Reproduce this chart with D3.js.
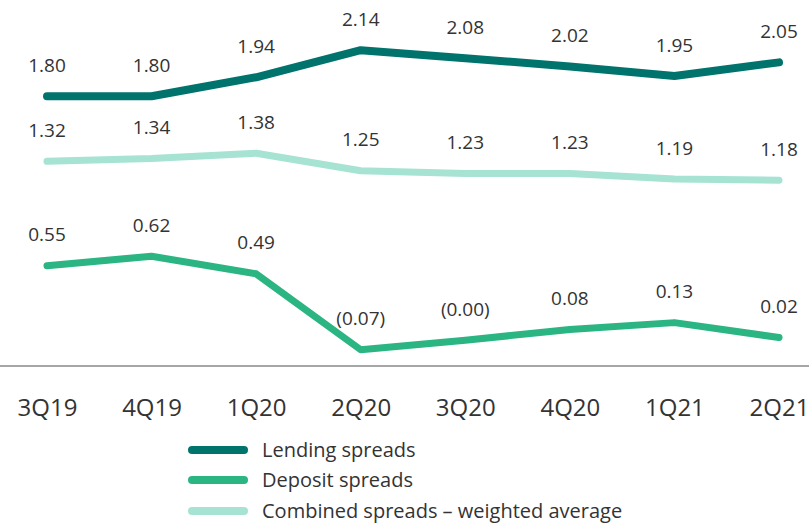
<!DOCTYPE html>
<html>
<head>
<meta charset="utf-8">
<script src="https://cdn.jsdelivr.net/npm/d3@7"></script>
<style>
  body { margin: 0; background: #fff; }
  svg { display: block; font-family: "Open Sans", "Noto Sans", sans-serif; }
  .axis path, .axis line { display: none; }
  .axis text { font-family: "Open Sans", "Noto Sans", sans-serif; font-size: 24px; fill: #333; }
  .val { font-size: 19px; fill: #333; }
  .legend text { font-size: 20px; fill: #333; }
</style>
</head>
<body>
<svg width="809" height="523"></svg>
<script>
const quarters = ["3Q19", "4Q19", "1Q20", "2Q20", "3Q20", "4Q20", "1Q21", "2Q21"];
const lending = [1.80, 1.80, 1.94, 2.14, 2.08, 2.02, 1.95, 2.05];
const deposit = [0.55, 0.62, 0.49, -0.07, -0.00, 0.08, 0.13, 0.02];
const combined = [1.32, 1.34, 1.38, 1.25, 1.23, 1.23, 1.19, 1.18];
const seriesNames = ["Lending spreads", "Deposit spreads", "Combined spreads – weighted average"];

const svg = d3.select("svg"),
    width = +svg.attr("width"),
    axisY = 366;

const x = d3.scalePoint().domain(quarters).range([47, 779]);
const y = d3.scaleLinear().domain([-0.19, 2.51]).range([axisY, 0]);

const series = [
    {name: seriesNames[0], values: lending, color: "#00736d", w: 8},
    {name: seriesNames[1], values: deposit, color: "#2bb583", w: 7},
    {name: seriesNames[2], values: combined, color: "#a6e3d3", w: 7}
];

// baseline
svg.append("line")
    .attr("x1", 0).attr("x2", width)
    .attr("y1", axisY).attr("y2", axisY)
    .attr("stroke", "#888").attr("stroke-width", 1.5);

svg.append("g")
    .attr("class", "axis")
    .attr("transform", `translate(0,${axisY})`)
    .call(d3.axisBottom(x).tickSize(0).tickPadding(0))
    .selectAll("text").attr("y", 50).attr("dy", null);

const line = d3.line()
    .x((d, i) => x(quarters[i]))
    .y(d => y(d));

const fmt = v => v < 0 || Object.is(v, -0) ? `(${Math.abs(v).toFixed(2)})` : v.toFixed(2);

series.forEach(s => {
    svg.append("path")
        .datum(s.values)
        .attr("fill", "none")
        .attr("stroke", s.color)
        .attr("stroke-width", s.w)
        .attr("stroke-linecap", "round")
        .attr("stroke-linejoin", "round")
        .attr("d", line);

    svg.selectAll(null)
        .data(s.values)
        .enter().append("text")
        .attr("class", "val")
        .attr("x", (d, i) => x(quarters[i]))
        .attr("y", d => y(d) - 31)
        .attr("dy", "0.35em")
        .attr("text-anchor", "middle")
        .text(fmt);
});

// legend
const legend = svg.append("g").attr("class", "legend");
const legY = [450, 480, 511];
series.forEach((s, i) => {
    legend.append("line")
        .attr("x1", 192).attr("x2", 244)
        .attr("y1", legY[i]).attr("y2", legY[i])
        .attr("stroke", s.color)
        .attr("stroke-width", 8)
        .attr("stroke-linecap", "round");
    legend.append("text")
        .attr("x", 262).attr("y", legY[i])
        .attr("dy", "0.35em")
        .text(s.name);
});
</script>
</body>
</html>
